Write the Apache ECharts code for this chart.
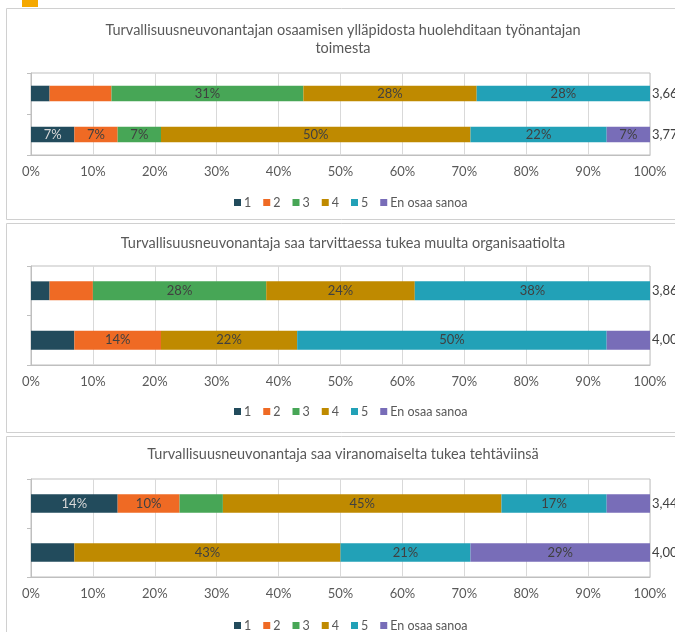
<!DOCTYPE html>
<html>
<head>
<meta charset="utf-8">
<script src="https://cdn.jsdelivr.net/npm/echarts@6/dist/echarts.min.js"></script>
<style>
  html, body { margin: 0; padding: 0; background: #ffffff; }
  #chart { width: 675px; height: 632px; }
</style>
</head>
<body>
<div id="chart"></div>
<script>
// Answer categories (stack order) and their colours
const answerNames = ['1', '2', '3', '4', '5', 'En osaa sanoa'];
const answerColors = ['#224b5c', '#ef6a24', '#47a656', '#bf8a00', '#22a1b7', '#786db8'];

// Statement titles
const titles = [
  'Turvallisuusneuvonantajan osaamisen ylläpidosta huolehditaan työnantajan\ntoimesta',
  'Turvallisuusneuvonantaja saa tarvittaessa tukea muulta organisaatiolta',
  'Turvallisuusneuvonantaja saa viranomaiselta tukea tehtäviinsä'
];

// Respondent groups (two rows per statement)
const rowNames = ['Ryhmä A', 'Ryhmä B'];

// Percent shares per answer, [row A, row B]
const shares1 = [[3, 7], [10, 7], [31, 7], [28, 50], [28, 22], [0, 7]];
const shares2 = [[3, 7], [7, 14], [28, 0], [24, 22], [38, 50], [0, 7]];
const shares3 = [[14, 7], [10, 0], [7, 0], [45, 43], [17, 21], [7, 29]];

// Which segments carry a printed percentage, [row A, row B]
const labeled1 = [[false, true], [false, true], [true, true], [true, true], [true, true], [false, true]];
const labeled2 = [[false, false], [false, true], [true, false], [true, true], [true, true], [false, false]];
const labeled3 = [[true, false], [true, false], [false, false], [true, true], [true, true], [false, true]];

// Mean score printed beside each row
const means1 = ['3,66', '3,77'];
const means2 = ['3,86', '4,00'];
const means3 = ['3,44', '4,00'];

// Value-axis ticks
const tickMin = 0, tickMax = 100, tickStep = 10;

const panels = [
  { shares: shares1, labeled: labeled1, means: means1 },
  { shares: shares2, labeled: labeled2, means: means2 },
  { shares: shares3, labeled: labeled3, means: means3 }
];

const FONT = 'Lato';
const gridBoxes = [
  { top: 73, height: 82 },
  { top: 266, height: 99 },
  { top: 479, height: 98 }
];
const titleY = [21, 234, 445];
const legendY = [191, 400, 614];

const grid = [], xAxis = [], yAxis = [], series = [], legend = [];
panels.forEach((p, i) => {
  grid.push({
    left: 31, right: 25, top: gridBoxes[i].top, height: gridBoxes[i].height,
    show: true, borderColor: '#bfbfbf', borderWidth: 1,
    containLabel: false, outerBoundsMode: 'none'
  });
  xAxis.push({
    type: 'value', gridIndex: i, min: tickMin, max: tickMax, interval: tickStep,
    axisLine: { show: true, lineStyle: { color: '#bfbfbf' } },
    axisTick: { show: false },
    splitLine: { show: true, lineStyle: { color: '#d9d9d9' } },
    axisLabel: { formatter: '{value}%', color: '#595959', fontFamily: FONT, fontSize: 13, margin: 10 }
  });
  yAxis.push({
    type: 'category', gridIndex: i, data: rowNames, inverse: true,
    axisLine: { show: true, lineStyle: { color: '#bfbfbf' } },
    axisTick: { show: true, length: 4, lineStyle: { color: '#bfbfbf' } },
    axisLabel: { show: false }
  });
  yAxis.push({
    type: 'category', gridIndex: i, data: p.means, inverse: true, position: 'right',
    axisLine: { show: false }, axisTick: { show: false },
    axisLabel: { color: '#404040', fontFamily: FONT, fontSize: 13, margin: 2 }
  });
  answerNames.forEach((name, s) => {
    series.push({
      type: 'bar', name: name, stack: 'panel' + i,
      xAxisIndex: i, yAxisIndex: i * 2,
      barCategoryGap: '62%',
      itemStyle: { color: answerColors[s] },
      label: {
        show: true, position: 'inside', formatter: '{c}%',
        color: s === 0 ? '#d8d8d8' : '#404040',
        fontFamily: FONT, fontSize: 13
      },
      data: p.shares[s].map((v, r) => ({ value: v, label: { show: p.labeled[s][r] && v > 0 } }))
    });
  });
  legend.push({
    top: legendY[i], left: 229, itemWidth: 7, itemHeight: 7, itemGap: 12,
    icon: 'rect', data: answerNames,
    textStyle: { color: '#595959', fontFamily: FONT, fontSize: 12.5, padding: [0, 0, 0, -2] },
    selectedMode: false
  });
});

const graphics = [
  // accent tab above the first panel
  { type: 'rect', shape: { x: 22, y: 0, width: 16, height: 7 }, style: { fill: '#f5a800' } },
  // panel frames
  { type: 'rect', shape: { x: 6.5, y: 8.5, width: 720, height: 211 }, style: { fill: 'none', stroke: '#d0d0d0', lineWidth: 1 } },
  { type: 'rect', shape: { x: 6.5, y: 223.5, width: 720, height: 209 }, style: { fill: 'none', stroke: '#d0d0d0', lineWidth: 1 } },
  { type: 'rect', shape: { x: 6.5, y: 436.5, width: 720, height: 260 }, style: { fill: 'none', stroke: '#d0d0d0', lineWidth: 1 } }
];
titles.forEach((t, i) => {
  graphics.push({
    type: 'text', x: 343, y: titleY[i],
    style: { text: t, fill: '#595959', font: '14.5px ' + FONT, align: 'center', verticalAlign: 'top', lineHeight: 18 }
  });
});

const chart = echarts.init(document.getElementById('chart'), null, { renderer: 'canvas' });
chart.setOption({
  animation: false,
  backgroundColor: '#ffffff',
  grid, xAxis, yAxis, series, legend,
  graphic: graphics
});
</script>
</body>
</html>
